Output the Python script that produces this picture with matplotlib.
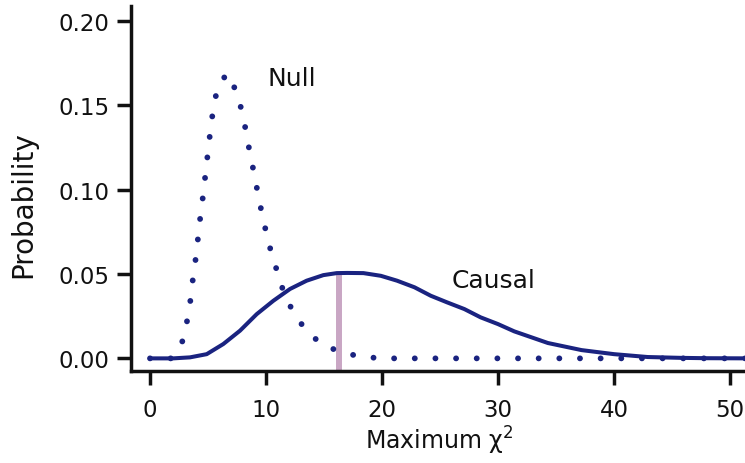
import numpy as np
import matplotlib
matplotlib.use("Agg")
import matplotlib.pyplot as plt

# Distribution of the maximum chi-square statistic under the null and causal models
null_x = [0, 1.8, 2.8, 3.2, 3.5, 3.7, 3.95, 4.15, 4.35, 4.58, 4.78, 4.98, 5.19, 5.42,
          5.76, 6.6, 7.43, 7.92, 8.27, 8.6, 8.96, 9.3, 9.65, 10.05, 10.5, 11.06, 11.55,
          12.4, 13.45, 14.8, 16.5, 18.2, 20, 30, 40, 52]
null_y = [0, 0, 0.0102, 0.0223, 0.0350, 0.0472, 0.0596, 0.0720, 0.0845, 0.0967, 0.1090,
          0.1212, 0.1339, 0.1461, 0.1585, 0.1688, 0.1585, 0.1465, 0.1347, 0.1220, 0.1100,
          0.0977, 0.0857, 0.0736, 0.0614, 0.0495, 0.0385, 0.0267, 0.0166, 0.0083, 0.0036,
          0.0010, 0, 0, 0, 0]

causal_x = [0, 2, 3.45, 4.89, 6.32, 7.76, 9.2, 10.63, 12.07, 13.5, 14.94, 16.1, 17.0,
            18.4, 19.9, 21.3, 22.8, 24.2, 25.6, 27.1, 28.5, 30.0, 31.4, 34.3, 37.2, 40.0,
            42.9, 45.8, 48.0, 52]
causal_y = [0, 0, 0.0006, 0.0025, 0.0085, 0.0164, 0.0262, 0.0341, 0.0411, 0.0460, 0.0493,
            0.0505, 0.0506, 0.0505, 0.0489, 0.0460, 0.0421, 0.0371, 0.0332, 0.0292, 0.0243,
            0.0203, 0.0160, 0.0091, 0.0049, 0.0025, 0.0008, 0.0003, 0.0001, 0]

observed_stat = 16.25

x_ticks = [0, 10, 20, 30, 40, 50]
y_ticks = [0.00, 0.05, 0.10, 0.15, 0.20]
y_tick_labels = ["0.00", "0.05", "0.10", "0.15", "0.20"]

navy = "#1a2380"
ink = "#111111"

fig = plt.figure(figsize=(7.45, 4.64), dpi=100)
W, H = 745, 464
left, right, bottom, top = 130.5, 745, 371.7, 7
ax = fig.add_axes([left / W, (H - bottom) / H, (right - left) / W, (bottom - top) / H])

ax.set_xlim(-1.68, 51.29)
ax.set_ylim(-0.0073, 0.2087)

# observed statistic marker
obs_top = np.interp(observed_stat, causal_x, causal_y)
ax.vlines(observed_stat, ax.get_ylim()[0], obs_top, color="#c9a6c4", lw=4.3, zorder=2)

ax.plot(null_x, null_y, color=navy, lw=4.2, linestyle=(0, (0.01, 3.53)),
        dash_capstyle="round", zorder=3)
ax.plot(causal_x, causal_y, color=navy, lw=2.9, solid_joinstyle="round",
        solid_capstyle="round", zorder=4)

ax.text(10.17, 0.162, "Null", fontsize=18, color=ink, ha="left", va="baseline")
ax.text(26.0, 0.0422, "Causal", fontsize=18, color=ink, ha="left", va="baseline")

for side in ("top", "right"):
    ax.spines[side].set_visible(False)
for side in ("left", "bottom"):
    ax.spines[side].set_linewidth(2.5)
    ax.spines[side].set_color(ink)

ax.set_xticks(x_ticks)
ax.set_yticks(y_ticks)
ax.set_yticklabels(y_tick_labels)
ax.tick_params(axis="both", direction="out", length=10, width=2.5, color=ink,
               labelsize=16.5, labelcolor=ink)
ax.tick_params(axis="x", pad=9.5)
ax.tick_params(axis="y", pad=5.3)

ax.set_xlabel(r"Maximum $\mathregular{\chi^2}$", fontsize=17, color=ink, va="baseline")
ax.xaxis.set_label_coords((439 - left) / (right - left), (bottom - 450) / (bottom - top))
ax.set_ylabel("Probability", fontsize=20, color=ink, ha="center", va="center")
ax.yaxis.set_label_coords((23 - left) / (right - left), (bottom - 205) / (bottom - top))

fig.savefig("out.png", dpi=100)
